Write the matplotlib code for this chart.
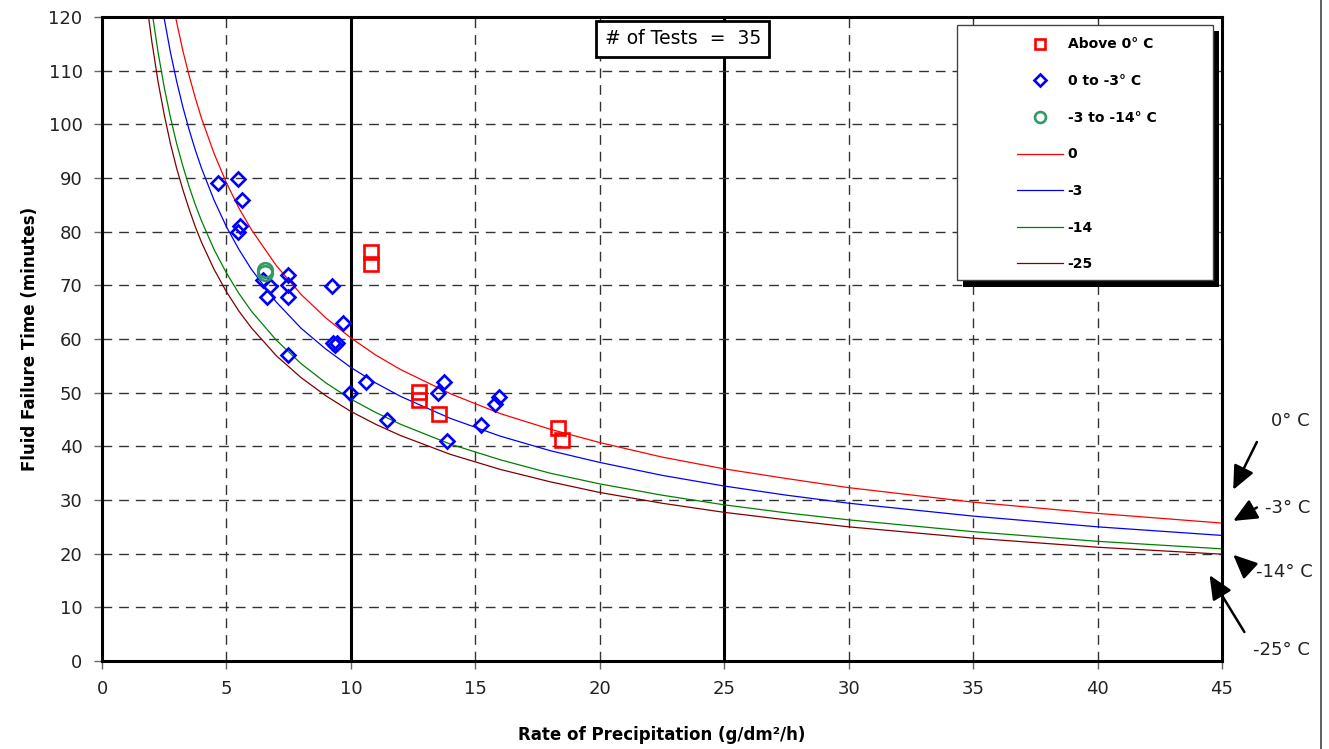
#!/usr/bin/env python3

"""
Fluid failure time vs. rate of precipitation, with the regression
curves for four outside air temperatures.
"""

import matplotlib

matplotlib.use("Agg")
import matplotlib.pyplot as plt
from matplotlib.lines import Line2D
from matplotlib.patches import Rectangle

# Test results, grouped by temperature band.
above_rate = [10.81, 10.81, 12.74, 12.74, 13.54, 18.32, 18.48]
above_time = [76.2, 74.0, 50.1, 48.6, 46.0, 43.4, 41.2]

mid_rate = [4.67, 5.48, 5.61, 5.54, 5.48, 6.48, 6.75, 6.62, 7.49, 7.49,
            7.49, 9.23, 9.70, 9.29, 9.43, 9.36, 7.49, 9.96, 10.59, 11.46,
            13.75, 13.51, 13.87, 15.21, 15.96, 15.79]
mid_time = [89.0, 89.9, 85.9, 81.0, 80.0, 71.0, 69.9, 67.9, 71.9, 70.1,
            67.9, 69.9, 62.9, 59.2, 59.2, 58.8, 57.0, 49.9, 51.9, 44.9,
            51.9, 49.9, 41.0, 44.0, 49.1, 47.9]

cold_rate = [6.55, 6.55]
cold_time = [72.9, 72.3]

# Regression curves.
curve_rate = [1.8, 2.0, 2.25, 2.5, 2.75, 3.0, 3.25, 3.5, 3.75, 4.0, 4.5, 5,
              5.5, 6, 7, 8, 9, 10, 11, 12, 14, 16, 18, 20, 22.5, 25, 27.5,
              30, 35, 40, 45]
curve_0 = [158.9, 149.7, 140.0, 131.9, 125.0, 119.0, 113.7, 109.1, 104.9,
           101.1, 94.6, 89.1, 84.4, 80.4, 73.7, 68.3, 63.9, 60.2, 57.0, 54.3,
           49.8, 46.1, 43.2, 40.7, 38.0, 35.8, 34.0, 32.3, 29.6, 27.5, 25.7]
curve_3 = [144.1, 135.8, 127.1, 119.7, 113.4, 108.0, 103.2, 99.0, 95.2,
           91.8, 85.9, 80.9, 76.7, 73.0, 66.9, 62.0, 58.1, 54.7, 51.8, 49.3,
           45.2, 41.9, 39.2, 37.0, 34.6, 32.6, 30.9, 29.4, 27.0, 25.0, 23.4]
curve_14 = [128.7, 121.3, 113.5, 106.9, 101.3, 96.4, 92.2, 88.4, 85.0,
            82.0, 76.7, 72.3, 68.5, 65.2, 59.8, 55.4, 51.8, 48.8, 46.3, 44.1,
            40.4, 37.5, 35.0, 33.0, 30.9, 29.1, 27.6, 26.3, 24.1, 22.3, 20.9]
curve_25 = [122.5, 115.5, 108.0, 101.8, 96.4, 91.8, 87.8, 84.2, 80.9,
            78.0, 73.0, 68.8, 65.2, 62.1, 56.9, 52.8, 49.4, 46.5, 44.1, 42.0,
            38.5, 35.7, 33.4, 31.4, 29.4, 27.7, 26.3, 25.0, 22.9, 21.2, 19.9]

# Labels at the right edge: (text, text pos, arrow tip) in data units.
edge_labels = [
    ("0° C", (47.75, 44.7), (45.45, 31.9)),
    ("-3° C", (47.65, 28.6), (45.45, 26.1)),
    ("-14° C", (47.5, 16.6), (45.45, 19.8)),
    ("-25° C", (47.4, 2.0), (44.5, 16.0)),
]
arrow_tails = [(46.4, 40.8), (46.4, 28.6), (46.1, 17.0), (45.9, 5.4)]


def main() -> None:
    fig = plt.figure(figsize=(13.29, 7.49), dpi=100)
    ax = fig.add_axes([102 / 1329, 88 / 749, 1120 / 1329, 644 / 749])

    # Grid: dashed every 5 / 10, solid at 10 and 25.
    for x in [5, 15, 20, 30, 35, 40]:
        ax.axvline(x, color="#333333", lw=1.0, ls=(0, (7, 5)), zorder=1)
    for x in [10, 25]:
        ax.axvline(x, color="black", lw=2.2, zorder=1)
    for y in range(10, 120, 10):
        ax.axhline(y, color="#333333", lw=1.0, ls=(0, (7, 5)), zorder=1)

    ax.plot(curve_rate, curve_0, color="#FF0000", lw=0.9, label="0", zorder=2)
    ax.plot(curve_rate, curve_3, color="#0000FF", lw=0.9, label="-3", zorder=2)
    ax.plot(curve_rate, curve_14, color="#008000", lw=0.9, label="-14", zorder=2)
    ax.plot(curve_rate, curve_25, color="#800000", lw=0.9, label="-25", zorder=2)

    ax.plot(above_rate, above_time, ls="none", marker="s", ms=10.5,
            mfc="none", mec="#FF0000", mew=1.9, label="Above 0° C", zorder=3)
    ax.plot(mid_rate, mid_time, ls="none", marker="D", ms=7.5,
            mfc="none", mec="#0000FF", mew=1.9, label="0 to -3° C", zorder=3)
    ax.plot(cold_rate, cold_time, ls="none", marker="o", ms=10.5,
            mfc="none", mec="#339966", mew=1.9, label="-3 to -14° C",
            zorder=3)

    ax.set_xlim(0, 45)
    ax.set_ylim(0, 120)
    ax.set_xticks(range(0, 46, 5))
    ax.set_yticks(range(0, 121, 10))
    ax.tick_params(direction="out", length=6, width=1, color="#666666",
                   labelsize=13, labelcolor="#222222", pad=8)
    for side in ax.spines.values():
        side.set_linewidth(2.2)
    ax.set_xlabel("Rate of Precipitation (g/dm²/h)", fontsize=12,
                  fontweight="bold", labelpad=20)
    ax.set_ylabel("Fluid Failure Time (minutes)", fontsize=12,
                  fontweight="bold", labelpad=7)

    ax.text(0.5185, 0.966, "# of Tests  =  35", transform=ax.transAxes,
            ha="center", va="center", fontsize=13.5,
            bbox=dict(boxstyle="square,pad=0.45", fc="white", ec="black",
                      lw=2))

    # Legend frame with drop shadow, then the entries on top.
    fig.add_artist(Rectangle((963 / 1329, 1 - 287 / 749), 256 / 1329,
                             256 / 749, transform=fig.transFigure,
                             fc="black", ec="none", zorder=4))
    fig.add_artist(Rectangle((957 / 1329, 1 - 280 / 749), 256 / 1329,
                             255 / 749, transform=fig.transFigure,
                             fc="white", ec="#444444", lw=1, zorder=5))
    handles, labels = ax.get_legend_handles_labels()
    order = [4, 5, 6, 0, 1, 2, 3]
    leg = fig.legend([handles[i] for i in order], [labels[i] for i in order],
                     loc="upper left",
                     bbox_to_anchor=(1017 / 1329, 1 - 37.5 / 749),
                     frameon=False, borderpad=0, borderaxespad=0,
                     handlelength=3.3, handletextpad=0.35, labelspacing=1.63,
                     markerscale=0.75, prop=dict(size=10, weight="bold"))
    leg.set_zorder(6)

    for (label, text_xy, tip), tail in zip(edge_labels, arrow_tails):
        ax.text(*text_xy, label, fontsize=13, ha="center", va="center",
                color="#222222", clip_on=False)
        ax.annotate("", xy=tip, xytext=tail, annotation_clip=False,
                    arrowprops=dict(arrowstyle="-|>,head_length=1.45,"
                                    "head_width=0.65", color="black", lw=1.8,
                                    shrinkA=0, shrinkB=0))

    fig.add_artist(Line2D([1321 / 1329] * 2, [0, 1], color="#444444", lw=1.2))

    fig.savefig("out.png", dpi=100)


if __name__ == "__main__":
    main()
